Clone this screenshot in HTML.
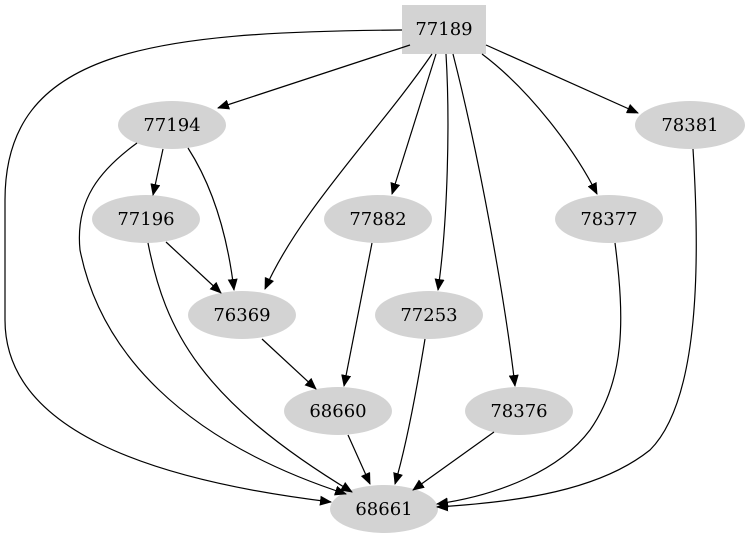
<!DOCTYPE html>
<html><head><style>body{margin:0;background:#fff}svg{display:block}</style></head>
<body>
<svg width="750" height="539" viewBox="0 0 750 539" xmlns="http://www.w3.org/2000/svg">
<defs><marker id="a" markerUnits="userSpaceOnUse" markerWidth="12" markerHeight="10" refX="11" refY="5" orient="auto"><path d="M0,0 L12,5 L0,10 z" fill="#000"/></marker></defs>
<g fill="#d3d3d3">
<rect x="402" y="5" width="84" height="49"/>
<ellipse cx="172" cy="125" rx="54" ry="24"/>
<ellipse cx="690" cy="125" rx="55" ry="24"/>
<ellipse cx="146" cy="219" rx="54" ry="24"/>
<ellipse cx="378" cy="219" rx="54" ry="24"/>
<ellipse cx="609" cy="219" rx="54" ry="24"/>
<ellipse cx="242" cy="315" rx="54" ry="24"/>
<ellipse cx="429" cy="315" rx="54" ry="24"/>
<ellipse cx="338" cy="411" rx="54" ry="24"/>
<ellipse cx="519" cy="411" rx="54" ry="24"/>
<ellipse cx="384" cy="509" rx="54" ry="24"/>
</g>
<g fill="none" stroke="#000" stroke-width="1.2" marker-end="url(#a)">
<path d="M402,30 C150,32 5,50 5,200 L5,320 C5,430 150,480 331,502"/>
<path d="M410,45 L218,108"/>
<path d="M432,54 C380,130 300,210 265,289"/>
<path d="M436,54 L392,194"/>
<path d="M446,54 C450,120 448,220 438,290"/>
<path d="M453,54 C480,160 505,300 515,386"/>
<path d="M482,54 C530,90 575,150 597,194"/>
<path d="M486,45 L638,113"/>
<path d="M163,149 L153,195"/>
<path d="M188,148 C215,190 228,240 234,290"/>
<path d="M137,143 C100,170 75,200 80,250 C100,350 180,440 346,494"/>
<path d="M166,242 L221,293"/>
<path d="M148,243 C165,330 200,400 352,492"/>
<path d="M372,243 L344,386"/>
<path d="M262,339 L316,389"/>
<path d="M425,339 C415,400 405,450 395,484"/>
<path d="M348,435 L370,484"/>
<path d="M494,432 L413,490"/>
<path d="M615,243 C625,320 625,380 590,430 C560,470 500,495 437,504"/>
<path d="M693,149 C700,260 700,400 650,450 C600,490 520,502 437,507"/>
</g>
<g font-family="'DejaVu Serif',serif" font-size="18" text-anchor="middle" fill="#000">
<text x="444" y="35">77189</text>
<text x="172" y="131">77194</text>
<text x="690" y="131">78381</text>
<text x="146" y="225">77196</text>
<text x="378" y="225">77882</text>
<text x="609" y="225">78377</text>
<text x="242" y="321">76369</text>
<text x="429" y="321">77253</text>
<text x="338" y="417">68660</text>
<text x="519" y="417">78376</text>
<text x="384" y="515">68661</text>
</g>
</svg>
</body></html>
